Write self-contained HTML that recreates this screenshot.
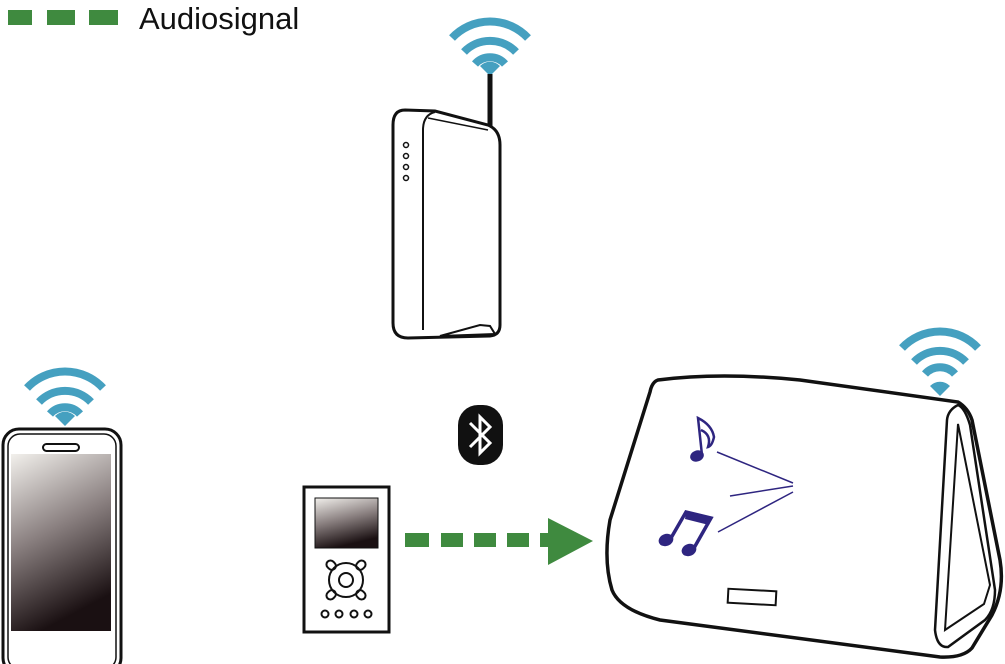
<!DOCTYPE html>
<html><head><meta charset="utf-8"><style>
html,body{margin:0;padding:0;background:#fff;}
svg{display:block;}
</style></head><body>
<svg width="1005" height="664" viewBox="0 0 1005 664" xmlns="http://www.w3.org/2000/svg">
<defs>
<linearGradient id="g1" x1="0" y1="0" x2="0.3" y2="1">
<stop offset="0" stop-color="#f2f0ec"/><stop offset="0.5" stop-color="#8a8080"/><stop offset="1" stop-color="#1a1012"/>
</linearGradient>
</defs>
<g fill="#3f8a3f">
<rect x="8" y="10" width="24" height="15"/><rect x="47" y="10" width="28" height="15"/><rect x="89" y="10" width="29" height="15"/>
</g>
<text x="139" y="29" font-family="Liberation Sans, sans-serif" font-size="31" fill="#111">Audiosignal</text>

<g id="wifi" fill="none" stroke="#45a0c0" stroke-width="8">
<path d="M452 38 A52 52 0 0 1 528 38"/>
<path d="M464 52 A36 36 0 0 1 516 52"/>
<path d="M475 64 A20 20 0 0 1 505 64"/>
</g>
<path d="M480 66 L490 76 L500 66 A14 14 0 0 0 480 66Z" fill="#45a0c0"/>
<line x1="490" y1="74" x2="490" y2="128" stroke="#111" stroke-width="5"/>
<path d="M405 110 L435 111 L488 125 Q500 130 500 145 L500 325 Q500 335 490 336 L408 338 Q393 338 393 323 L393 125 Q393 110 405 110Z" fill="#fff" stroke="#111" stroke-width="3"/>
<path d="M435 112 Q423 115 423 130 L423 330" fill="none" stroke="#111" stroke-width="2"/>
<path d="M428 118 L488 130" fill="none" stroke="#111" stroke-width="1.5"/>
<path d="M440 336 L480 325 L490 326 L495 334 Z" fill="none" stroke="#111" stroke-width="2"/>
<g fill="none" stroke="#111" stroke-width="1.5"><circle cx="406" cy="145" r="2.5"/><circle cx="406" cy="156" r="2.5"/><circle cx="406" cy="167" r="2.5"/><circle cx="406" cy="178" r="2.5"/></g>

<use href="#wifi" transform="translate(-425,350)"/>
<path d="M55 416 L65 426 L75 416 A14 14 0 0 0 55 416Z" fill="#45a0c0"/>
<rect x="3" y="429" width="118" height="245" rx="16" fill="#fff" stroke="#111" stroke-width="3"/>
<rect x="8" y="434" width="108" height="235" rx="12" fill="none" stroke="#111" stroke-width="1.5"/>
<rect x="43" y="444" width="36" height="7" rx="3.5" fill="none" stroke="#111" stroke-width="2"/>
<rect x="11" y="454" width="100" height="177" fill="url(#g1)"/>

<rect x="458" y="405" width="45" height="60" rx="20" fill="#111"/>
<path d="M470 423 L490 443 L480 453 L480 417 L490 427 L470 447" fill="none" stroke="#fff" stroke-width="3"/>

<rect x="304" y="487" width="85" height="145" fill="#fff" stroke="#111" stroke-width="3"/>
<rect x="315" y="498" width="63" height="50" fill="url(#g1)" stroke="#111" stroke-width="1"/>
<g fill="none" stroke="#111" stroke-width="2">
<circle cx="346" cy="580" r="17"/><circle cx="346" cy="580" r="7"/>
<g transform="rotate(45 346 580)">
<rect x="320" y="576" width="10" height="8" rx="4"/><rect x="362" y="576" width="10" height="8" rx="4"/>
<rect x="342" y="554" width="8" height="10" rx="4"/><rect x="342" y="596" width="8" height="10" rx="4"/>
</g>
<circle cx="325" cy="614" r="3.5"/><circle cx="339" cy="614" r="3.5"/><circle cx="354" cy="614" r="3.5"/><circle cx="368" cy="614" r="3.5"/>
</g>

<g fill="#3f8a3f">
<rect x="405" y="533" width="24" height="14"/><rect x="441" y="533" width="22" height="14"/><rect x="474" y="533" width="22" height="14"/><rect x="507" y="533" width="22" height="14"/><rect x="540" y="533" width="14" height="14"/>
<path d="M548 518 L593 541 L548 565Z"/>
</g>

<use href="#wifi" transform="translate(450,310)"/>
<path d="M930 386 L940 396 L950 386 A14 14 0 0 0 930 386Z" fill="#45a0c0"/>
<path d="M658 380 Q720 372 800 380 L958 402 Q968 408 972 420 L1000 560 Q1005 590 992 615 L972 648 Q963 658 940 657 L660 620 Q620 610 612 590 Q603 560 610 520 L650 392 Q652 382 658 380Z" fill="#fff" stroke="#111" stroke-width="3.5"/>
<path d="M958 405 Q948 410 947 420 L935 630 Q937 648 948 647 L985 620 Q995 610 995 590 L970 425 Q965 408 958 405Z" fill="none" stroke="#111" stroke-width="2.5"/>
<path d="M958 424 L945 630 L984 604 L990 585Z" fill="none" stroke="#111" stroke-width="2"/>
<rect x="728" y="590" width="48" height="14" transform="rotate(3 752 597)" fill="none" stroke="#111" stroke-width="2"/>
<g fill="#2e2580" stroke="#2e2580">
<ellipse cx="697" cy="456" rx="7" ry="5.5" transform="rotate(-20 697 456)" stroke="none"/>
<path d="M702 455 L698 418 Q712 425 714 437 Q712 446 708 447 Q712 435 701 430" stroke-width="2.5" fill="none"/>
<ellipse cx="666" cy="540" rx="7.5" ry="6" transform="rotate(-20 666 540)" stroke="none"/>
<ellipse cx="689" cy="550" rx="7.5" ry="6" transform="rotate(-20 689 550)" stroke="none"/>
<path d="M671 538 L686 512 L711 518 L694 548" stroke-width="3.5" fill="none"/>
<path d="M686 512 L711 518 L709 525 L685 519Z" stroke="none"/>
<line x1="717" y1="452" x2="793" y2="483" stroke-width="1.5"/>
<line x1="730" y1="496" x2="793" y2="486" stroke-width="1.5"/>
<line x1="718" y1="532" x2="793" y2="492" stroke-width="1.5"/>
</g>
</svg>
</body></html>
